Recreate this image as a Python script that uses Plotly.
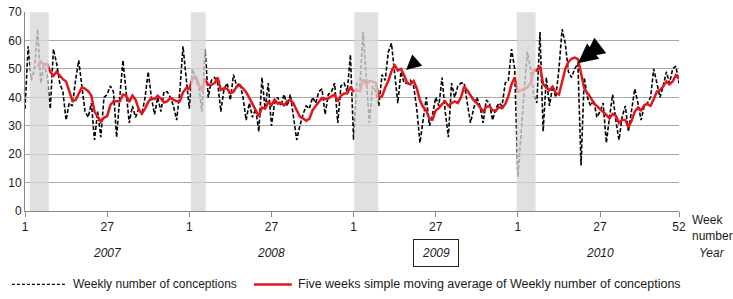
import plotly.graph_objects as go

# ---------------- data ----------------
years = [2007, 2008, 2009, 2010]
tick_weeks = [1, 27]
last_week_label = "52"
y_ticks = [0, 10, 20, 30, 40, 50, 60, 70]

weekly_2007 = [36, 58, 46, 50, 64, 45, 52, 48, 36, 57, 52, 45, 42, 32, 38, 37, 46, 53, 44, 35,
               33, 38, 25, 35, 26, 40, 41, 44, 42, 26, 40, 53, 42, 31, 37, 33, 36, 34, 40, 49,
               40, 34, 40, 35, 42, 42, 40, 37, 32, 42, 58, 47]
weekly_2008 = [36, 50, 46, 44, 35, 57, 40, 46, 47, 45, 35, 43, 45, 39, 48, 44, 45, 40, 32, 38,
               33, 36, 28, 47, 36, 45, 30, 38, 40, 37, 41, 37, 41, 33, 25, 30, 34, 37, 36, 40,
               38, 42, 43, 34, 41, 42, 45, 31, 44, 45, 42, 55]
weekly_2009 = [25, 45, 44, 63, 46, 31, 44, 42, 37, 48, 46, 56, 59, 48, 38, 49, 45, 45, 46, 44,
               36, 24, 33, 40, 30, 34, 40, 37, 47, 35, 26, 45, 40, 44, 45, 45, 38, 31, 36, 40,
               37, 31, 39, 38, 32, 36, 38, 37, 45, 46, 57, 50]
weekly_2010 = [12, 28, 42, 56, 50, 41, 38, 63, 28, 47, 37, 44, 40, 50, 64, 59, 49, 47, 50, 52,
               16, 47, 40, 37, 39, 33, 35, 38, 24, 33, 41, 32, 25, 33, 37, 28, 36, 43, 38, 32,
               37, 38, 40, 50, 45, 40, 44, 49, 45, 50, 51, 45]

# five weeks simple moving average (undefined for first 4 weeks)
ma_2007 = [None, None, None, None,
           50.8, 52.6, 51.4, 51.8, 49.0, 47.6, 49.0, 47.6, 46.4, 45.6, 41.8, 38.8, 39.0, 41.2,
           43.6, 43.0, 42.2, 40.6, 35.0, 33.2, 31.4, 32.8, 33.4, 37.2, 38.6, 38.6, 38.6, 41.0,
           40.6, 38.4, 40.6, 39.2, 35.8, 34.2, 36.0, 38.4, 39.8, 39.4, 40.6, 39.6, 38.2, 38.6,
           39.8, 39.2, 38.6, 38.6, 41.8, 43.2]
ma_2008 = [43.0, 46.6, 47.4, 44.6, 42.2, 46.4, 44.4, 44.4, 45.0, 47.0, 42.6, 43.2, 43.0, 41.4,
           42.0, 43.8, 44.2, 43.2, 41.8, 39.8, 37.6, 35.8, 33.4, 36.4, 36.0, 38.4, 37.2, 39.2,
           37.8, 38.0, 37.2, 38.6, 39.2, 37.8, 35.4, 33.2, 32.6, 31.8, 32.4, 35.4, 37.0, 38.6,
           39.8, 39.4, 39.6, 40.4, 41.0, 38.6, 40.6, 41.4, 41.4, 43.4]
ma_2009 = [42.2, 42.4, 42.2, 46.4, 44.6, 45.8, 45.6, 45.2, 40.0, 40.4, 43.4, 45.8, 49.2, 51.4,
           49.4, 50.0, 47.8, 45.0, 44.6, 45.8, 43.2, 39.0, 36.6, 35.4, 32.6, 32.2, 35.4, 36.2,
           37.6, 38.6, 37.0, 38.0, 38.6, 38.0, 40.0, 43.8, 42.4, 40.6, 39.0, 38.0, 36.4, 35.0,
           36.6, 37.0, 35.4, 35.2, 36.6, 36.2, 37.6, 40.4, 44.6, 47.0]
ma_2010 = [42.0, 42.5, 43.0, 43.5, 45.0, 49.5, 49.5, 51.0, 44.7, 43.4, 42.6, 43.8, 41.5, 41.0,
           45.5, 50.0, 52.5, 53.6, 54.0, 53.5, 48.5, 43.2, 41.5, 40.0, 38.0, 37.0, 36.0, 35.0,
           33.8, 32.6, 34.2, 33.6, 31.0, 32.0, 32.0, 29.5, 31.8, 35.0, 36.4, 35.4, 37.2, 37.6,
           37.0, 39.4, 42.0, 42.6, 43.8, 45.6, 44.6, 45.6, 47.8, 46.5]

# holiday periods shaded grey: (year, start week, end week)
holiday_periods = [(2007, 2.5, 8.5), (2008, 1.5, 6.2), (2009, 1.2, 8.8), (2010, 0.6, 6.6)]

# arrows: (year, week, value) that they point at
arrow_2009 = (2009, 17.6, 49.6)
arrow_2010 = (2010, 20.0, 52.0)

series_name_weekly = "Weekly number of conceptions"
series_name_ma = "Five weeks simple moving average of Weekly number of conceptions"

# ---------------- build ----------------
weekly = weekly_2007 + weekly_2008 + weekly_2009 + weekly_2010
ma = ma_2007 + ma_2008 + ma_2009 + ma_2010
n_weeks = len(weekly_2007)


def pos(year, week):
    return (year - years[0]) * n_weeks + (week - 1)


x = [pos(y, w) for y in years for w in range(1, n_weeks + 1)]

FONT = "Liberation Sans, Arial, sans-serif"
RED = "#e3161b"
TXT = "#1a1a1a"
DASH = "4px,2px"

fig = go.Figure()
fig.add_trace(go.Scatter(x=x, y=weekly, mode="lines", name=series_name_weekly,
                         line=dict(color="black", width=1.6, dash=DASH),
                         showlegend=False, hoverinfo="skip"))
fig.add_trace(go.Scatter(x=x, y=ma, mode="lines", name=series_name_ma,
                         line=dict(color=RED, width=2.5),
                         showlegend=False, connectgaps=False, hoverinfo="skip"))

shapes = []
for (yr, a, b) in holiday_periods:
    shapes.append(dict(type="rect", layer="above", xref="x", yref="y",
                       x0=pos(yr, a), x1=pos(yr, b), y0=0, y1=70,
                       fillcolor="rgba(215,215,215,0.78)", line=dict(width=0)))

# legend drawn manually
leg_y = -0.369
shapes.append(dict(type="line", xref="paper", yref="paper", x0=-0.020, x1=0.064,
                   y0=leg_y, y1=leg_y, line=dict(color="black", width=1.3, dash="3px,2px")))
shapes.append(dict(type="line", xref="paper", yref="paper", x0=0.350, x1=0.408,
                   y0=leg_y, y1=leg_y, line=dict(color=RED, width=2.5)))

tickvals = [pos(y, w) for y in years for w in tick_weeks] + [pos(years[-1], n_weeks)]
ticktext = [str(w) for y in years for w in tick_weeks] + [last_week_label]

annotations = [
    dict(text=series_name_weekly, xref="paper", yref="paper", x=0.070, y=leg_y,
         xanchor="left", yanchor="middle", showarrow=False,
         font=dict(size=12, color=TXT, family=FONT)),
    dict(text=series_name_ma, xref="paper", yref="paper", x=0.414, y=leg_y,
         xanchor="left", yanchor="middle", showarrow=False,
         font=dict(size=12.5, color=TXT, family=FONT)),
    dict(text="Week<br>number", xref="paper", yref="paper", x=1.017, y=-0.087,
         xanchor="left", yanchor="middle", align="left", showarrow=False,
         font=dict(size=12, color=TXT, family=FONT)),
    dict(text="<i>Year</i>", xref="paper", yref="paper", x=1.05, y=-0.209,
         xanchor="center", yanchor="middle", showarrow=False,
         font=dict(size=12, color=TXT, family=FONT)),
]
for yr in years:
    a = dict(text="<i>%d</i>" % yr, xref="x", yref="paper", x=pos(yr, 27), y=-0.209,
             xanchor="center", yanchor="middle", showarrow=False,
             font=dict(size=12, color=TXT, family=FONT))
    if yr == 2009:
        a.update(bordercolor="#222", borderwidth=1, borderpad=3, width=38, height=20)
    annotations.append(a)

# arrows
ay, aw, av = arrow_2009
annotations.append(dict(x=pos(ay, aw), y=av, xref="x", yref="y", text="", showarrow=True,
                        arrowhead=2, arrowsize=3.0, arrowwidth=1, arrowcolor="black",
                        ax=9, ay=-8))
ay, aw, av = arrow_2010
annotations.append(dict(x=pos(ay, aw), y=av, xref="x", yref="y", text="", showarrow=True,
                        arrowhead=2, arrowsize=1.5, arrowwidth=2.6, arrowcolor="black",
                        ax=20, ay=-16))
annotations.append(dict(x=pos(ay, aw + 2.2), y=av + 2.1, xref="x", yref="y", text="",
                        showarrow=True, arrowhead=2, arrowsize=1.5, arrowwidth=2.6,
                        arrowcolor="black", ax=13, ay=-10))

fig.update_layout(
    width=733, height=299,
    margin=dict(l=25, r=54, t=5, b=88),
    paper_bgcolor="white", plot_bgcolor="white",
    font=dict(family=FONT, size=12, color=TXT),
    shapes=shapes, annotations=annotations,
    showlegend=False,
)
fig.update_xaxes(range=[0, pos(years[-1], n_weeks)], tickvals=tickvals, ticktext=ticktext,
                 ticks="outside", ticklen=5, tickcolor="#888", showline=True, linecolor="#888",
                 linewidth=1, showgrid=False, zeroline=False,
                 tickfont=dict(size=12, color=TXT, family=FONT))
fig.update_yaxes(range=[0, 70.05], tickmode="array", tickvals=y_ticks,
                 ticktext=[str(v) for v in y_ticks],
                 showgrid=True, gridcolor="#a8a8a8", gridwidth=1,
                 showline=True, linecolor="#888", linewidth=1, zeroline=False, ticks="",
                 ticklabeloverflow="allow",
                 tickfont=dict(size=12, color=TXT, family=FONT))

fig.write_html("out.html", config={"displayModeBar": False},
               post_script="document.body.style.margin='0px';document.body.style.overflow='hidden';")
